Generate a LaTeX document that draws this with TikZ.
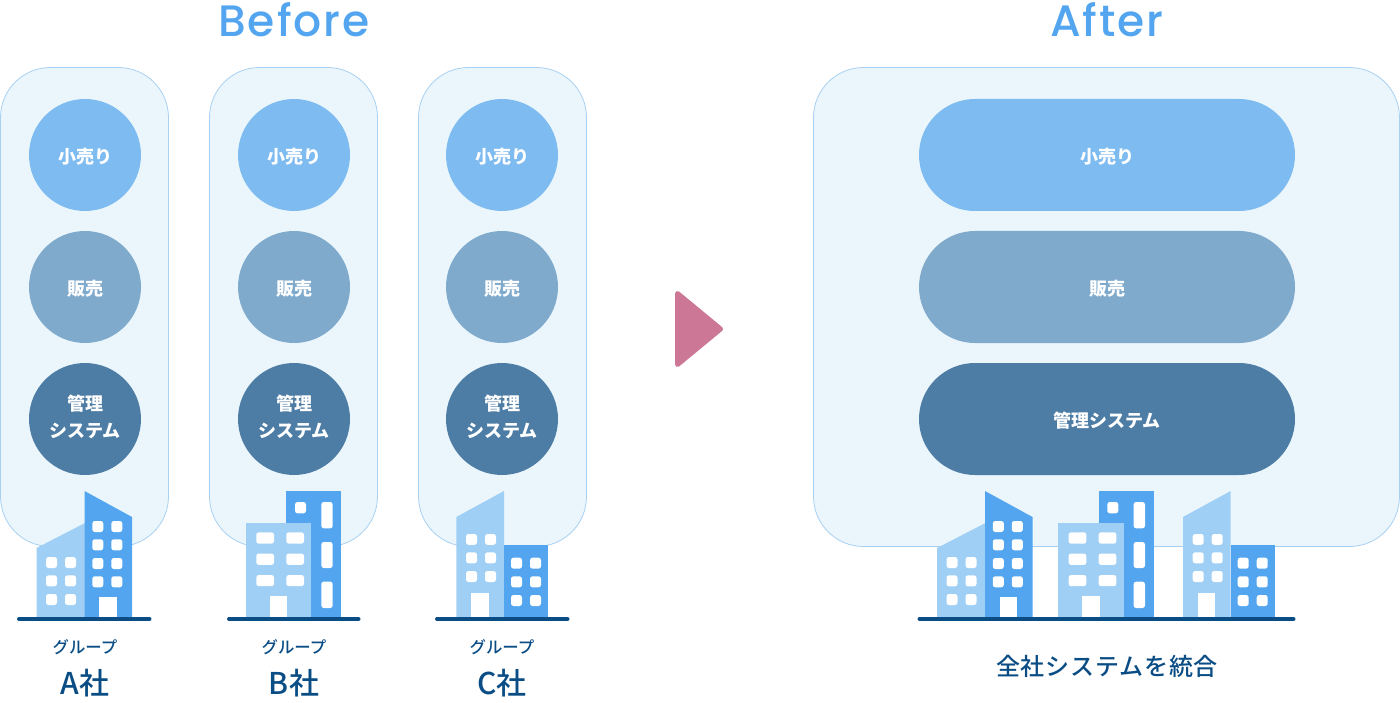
\documentclass[tikz,border=0pt]{standalone}
\usepackage{fontspec}
\setmainfont{Noto Sans CJK JP}
\newfontfamily\titlefont[LetterSpace=4.5]{Poppins Medium}
\newfontfamily\wideface[LetterSpace=3.5]{Noto Sans CJK JP Medium}
\newfontfamily\midface{Noto Sans CJK JP Medium}
\usepackage[HTML]{xcolor}
\usepackage{tikz}
\usetikzlibrary{positioning}

\definecolor{panelfill}{HTML}{EAF6FC}
\definecolor{panelline}{HTML}{A8D0F3}
\definecolor{retailblue}{HTML}{7DBBF0}
\definecolor{salesblue}{HTML}{80AACC}
\definecolor{adminblue}{HTML}{4D7CA4}
\definecolor{darkbuild}{HTML}{52A5EE}
\definecolor{lightbuild}{HTML}{A0CFF5}
\definecolor{groundblue}{HTML}{0A4D85}
\definecolor{titleblue}{HTML}{52A5EE}
\definecolor{arrowpink}{HTML}{CC7795}

% struts that nudge the text inside a centred shape
\newcommand{\tophang}{\rule{0pt}{19pt}}
\newcommand{\foothang}{\rule[-6pt]{0pt}{6pt}}

\begin{document}
\begin{tikzpicture}[x=1pt, y=-1pt,
    panel/.style={fill=panelfill, draw=panelline, line width=0.8pt, rounded corners=50pt},
    disc/.style={circle, minimum size=112pt, inner sep=0pt, text=white, align=center,
        font=\fontsize{18}{27}\selectfont\bfseries},
    pill/.style={rectangle, rounded corners=56pt, minimum width=376pt, minimum height=112pt,
        inner sep=0pt, text=white, font=\fontsize{18}{27}\selectfont\bfseries},
    win/.style={fill=white, rounded corners=2.5pt},
    ground/.style={groundblue, line width=4pt, line cap=round},
    heading/.style={text=titleblue, font=\fontsize{44}{44}\selectfont\titlefont},
    grouplabel/.style={text=groundblue, font=\fontsize{16.4}{16}\selectfont\midface},
    companylabel/.style={text=groundblue, font=\fontsize{30}{30}\selectfont\midface},
    tower a/.pic={
        \fill[lightbuild] (36.5,548) -- (85,523) -- (85,617) -- (36.5,617) -- cycle;
        \fill[darkbuild] (84.5,491) -- (132,517) -- (132,617) -- (84.5,617) -- cycle;
        \fill[white] (99.3,596.7) rectangle (116.7,617);
        % windows, dark block
        \fill[win] (92.3,521) rectangle ++(11,11);
        \fill[win] (111.3,521) rectangle ++(11,11);
        \fill[win] (92.3,539.3) rectangle ++(11,11);
        \fill[win] (111.3,539.3) rectangle ++(11,11);
        \fill[win] (92.3,558) rectangle ++(11,11);
        \fill[win] (111.3,558) rectangle ++(11,11);
        \fill[win] (92.3,576.3) rectangle ++(11,11);
        \fill[win] (111.3,576.3) rectangle ++(11,11);
        % windows, light block
        \fill[win] (46,557) rectangle ++(11,11);
        \fill[win] (65,557) rectangle ++(11,11);
        \fill[win] (46,575.3) rectangle ++(11,11);
        \fill[win] (65,575.3) rectangle ++(11,11);
        \fill[win] (46,594) rectangle ++(11,11);
        \fill[win] (65,594) rectangle ++(11,11);
    },
    tower b/.pic={
        \fill[darkbuild] (286.3,491) rectangle (341.3,617);
        \fill[lightbuild] (246,523) rectangle (311.3,617);
        \fill[white] (270,596) rectangle (287.3,617);
        % windows, dark block
        \fill[win] (295,502) rectangle ++(11,11.3);
        \fill[win] (321.3,502) rectangle ++(11.4,26.3);
        \fill[win] (321.3,542) rectangle ++(11.4,26);
        \fill[win] (321.3,581.7) rectangle ++(11.4,26.3);
        % windows, light block
        \fill[win] (256.3,532.3) rectangle ++(17.7,11.4);
        \fill[win] (286.3,532.3) rectangle ++(17.7,11.4);
        \fill[win] (256.3,553.5) rectangle ++(17.7,11.4);
        \fill[win] (286.3,553.5) rectangle ++(17.7,11.4);
        \fill[win] (256.3,575) rectangle ++(17.7,11.2);
        \fill[win] (286.3,575) rectangle ++(17.7,11.2);
    },
    tower c/.pic={
        \fill[lightbuild] (456.3,517) -- (504,491) -- (504,617) -- (456.3,617) -- cycle;
        \fill[darkbuild] (504,544.5) rectangle (548,617);
        \fill[white] (471.3,592.7) rectangle (488.7,617);
        % windows, light block
        \fill[win] (466,534) rectangle ++(11,10.8);
        \fill[win] (485,534) rectangle ++(11,10.8);
        \fill[win] (466,552.3) rectangle ++(11,11);
        \fill[win] (485,552.3) rectangle ++(11,11);
        \fill[win] (466,571) rectangle ++(11,11);
        \fill[win] (485,571) rectangle ++(11,11);
        % windows, dark block
        \fill[win] (511,557.7) rectangle ++(11,11);
        \fill[win] (530,557.7) rectangle ++(11,11);
        \fill[win] (511,576.3) rectangle ++(11,11);
        \fill[win] (530,576.3) rectangle ++(11,11);
        \fill[win] (511,595) rectangle ++(11,11);
        \fill[win] (530,595) rectangle ++(11,11);
    }]

\useasboundingbox (0,0) rectangle (1400,703);

% --- Headings ---
\node[heading] (before) at (294,20) {Before};
\node[heading] (after) at (1107,20) {After};

% --- Before: three companies ---
\draw[panel] (0.5,67.5) rectangle (168.5,546.5);
\draw[panel] (209.5,67.5) rectangle (377.5,546.5);
\draw[panel] (418.5,67.5) rectangle (586.5,546.5);

% Company A
\node[disc, fill=retailblue] (retailA) at (85,155) {\tophang 小売り};
\node[disc, fill=salesblue] (salesA) at (85,287) {\tophang 販売};
\node[disc, fill=adminblue] (adminA) at (85,419) {管理\\システム\foothang};

% Company B
\node[disc, fill=retailblue] (retailB) at (294,155) {\tophang 小売り};
\node[disc, fill=salesblue] (salesB) at (294,287) {\tophang 販売};
\node[disc, fill=adminblue] (adminB) at (294,419) {管理\\システム\foothang};

% Company C
\node[disc, fill=retailblue] (retailC) at (502,155) {\tophang 小売り};
\node[disc, fill=salesblue] (salesC) at (502,287) {\tophang 販売};
\node[disc, fill=adminblue] (adminC) at (502,419) {管理\\システム\foothang};

% Buildings and ground lines
\pic at (0,0) {tower a};
\pic at (0,0) {tower b};
\pic at (0,0) {tower c};
\draw[ground] (19,619) -- (149.5,619);
\draw[ground] (229,619) -- (358.5,619);
\draw[ground] (437,619) -- (567.5,619);

% Labels
\node[grouplabel] (groupA) at (85,647.5) {グループ};
\node[grouplabel] (groupB) at (294,647.5) {グループ};
\node[grouplabel] (groupC) at (502,647.5) {グループ};
\node[companylabel] (nameA) at (85,683) {A社};
\node[companylabel] (nameB) at (294,683) {B社};
\node[companylabel] (nameC) at (502,683) {C社};

% --- Arrow between the two states ---
\fill[arrowpink, draw=arrowpink, line width=5pt, line join=round]
    (677.5,293.5) -- (720.5,329) -- (677.5,364.5) -- cycle;

% --- After: one merged system ---
\draw[panel] (813.5,67.5) rectangle (1399.5,546.5);

\node[pill, fill=retailblue] (retailAll) at (1107,155) {\tophang 小売り};
\node[pill, fill=salesblue] (salesAll) at (1107,287) {\tophang 販売};
\node[pill, fill=adminblue] (adminAll) at (1107,419) {\tophang 管理システム};

\pic at (900.5,0) {tower a};
\pic at (812.3,0) {tower b};
\pic at (726.7,0) {tower c};
\draw[ground] (919.5,619) -- (1293.5,619);

\node[text=groundblue, font=\fontsize{24}{24}\selectfont\wideface] (merged) at (1107,666) {全社システムを統合};

\end{tikzpicture}
\end{document}
